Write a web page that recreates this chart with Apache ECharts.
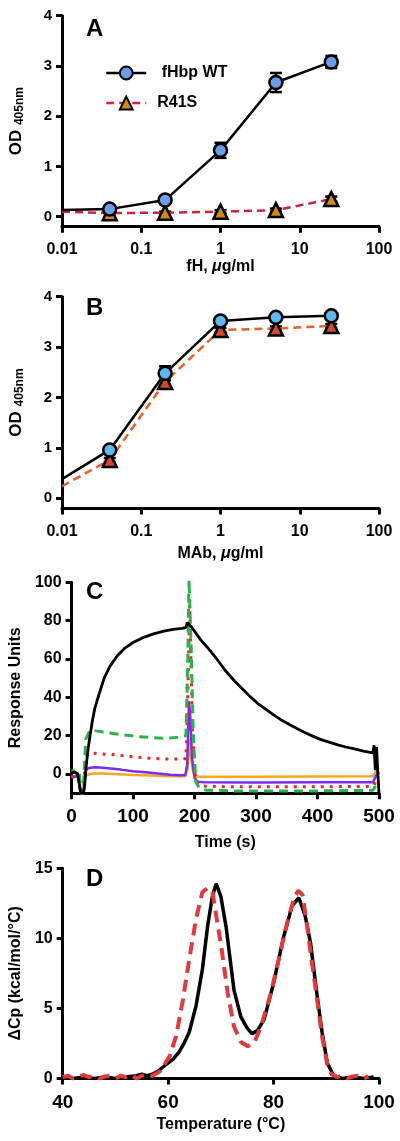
<!DOCTYPE html>
<html>
<head>
<meta charset="utf-8">
<script src="https://cdn.jsdelivr.net/npm/echarts@6/dist/echarts.min.js"></script>
<style>
html,body{margin:0;padding:0;background:#fff;}
#c{width:400px;height:1141px;}
</style>
</head>
<body>
<div id="c"></div>
<script>
// ---------- Panel A : fH binding ----------
const concA = [0.01, 0.04, 0.2, 1, 5, 25];
const wtA = [0.13, 0.15, 0.33, 1.32, 2.67, 3.08];
const wtAErr = [0, 0.04, 0.05, 0.15, 0.19, 0.12];
const r41sA = [0.1, 0.07, 0.08, 0.1, 0.13, 0.35];
const r41sAErr = [0, 0.02, 0.02, 0.03, 0.03, 0.05];
// ---------- Panel B : MAb binding ----------
const concB = [0.01, 0.04, 0.2, 1, 5, 25];
const wtB = [0.38, 0.96, 2.48, 3.52, 3.59, 3.62];
const wtBErr = [0, 0.05, 0.14, 0.05, 0.04, 0.04];
const r41sB = [0.24, 0.76, 2.31, 3.34, 3.37, 3.42];
const r41sBErr = [0, 0.04, 0.1, 0.04, 0.04, 0.04];
const logTickLabels = ['0.01', '0.1', '1', '10', '100'];
const odTicks = [0, 1, 2, 3, 4];
const seriesNames = [' fHbp WT', 'R41S'];

// ---------- Panel C : SPR sensorgrams [time s, RU] ----------
const sprBlack = [[0,0.5],[5,1],[10,0],[13,-1],[15,-10],[19,-10],[21,-7],[24,5],[27,13.5],[30,20],[34,28],[38,34.5],[45,42],[53,50],[62,56],[74,61.6],[86,65.5],[100,68.6],[115,71],[132,73],[150,74.5],[165,75.5],[180,76],[186,76.5],[188,79],[191,80],[194,77],[200,74.5],[210,70],[221,66],[235,60.5],[250,54],[265,48.5],[276,45],[290,40.5],[302,37],[315,34],[328,31],[342,28],[355,25.7],[368,23.5],[381,21.4],[394,19.5],[407,17.8],[420,16.5],[433,15.2],[446,14.1],[460,13.1],[475,12],[490,11],[492,15],[494,2],[496,14],[498,1],[500,-10]];
const sprGreen = [[0,2],[5,1.5],[8,0],[10,2],[13,0],[15,-10],[19,-10],[21,5],[23,18],[27,21],[32,23],[40,22.5],[55,21.8],[70,21],[90,20.2],[110,19.5],[130,19],[150,18.7],[170,19],[186,20],[189,60],[191,102],[193,102],[195,60],[198,20],[202,-4],[208,-7.5],[220,-8.5],[240,-8.5],[260,-8.8],[300,-8.8],[350,-8.8],[400,-8.8],[450,-8.6],[490,-8.5],[495,-6],[500,-5]];
const sprRed = [[0,-1],[5,-1.5],[10,-1],[13,-2],[15,-10],[19,-10],[21,0],[23,9],[28,10.5],[35,10.8],[50,10.5],[70,10],[90,9.3],[110,8.7],[130,8.2],[150,7.9],[170,7.8],[186,8],[189,40],[192,88],[194,60],[197,20],[201,0],[205,-5.5],[215,-6.3],[250,-6.6],[300,-6.6],[400,-6.6],[490,-6.5],[495,-4],[500,-3]];
const sprPurple = [[0,-2],[10,-1],[13,-2],[15,-10],[19,-10],[21,-2],[23,2.5],[30,3.3],[40,3.5],[60,3],[80,2.3],[100,1.5],[120,0.9],[140,0.3],[160,-0.4],[175,-0.6],[185,-0.5],[188,5],[191,38],[193,30],[196,8],[200,-2],[205,-4],[215,-4.3],[300,-4.4],[400,-4.3],[490,-4.3],[495,-1],[500,1]];
const sprOrange = [[0,-1],[10,-1],[13,-2],[15,-10],[19,-10],[21,-3],[24,-0.5],[35,0.3],[50,0.3],[70,0],[100,-0.5],[130,-0.8],[160,-1.1],[185,-1.2],[189,3],[192,18],[194,10],[197,2],[201,-1.3],[210,-1.4],[300,-1.4],[400,-1.3],[490,-1.2],[495,1],[500,3]];
const ruTicks = [0, 20, 40, 60, 80, 100];

// ---------- Panel D : DSC [T degC, dCp] ----------
const dscWT = [[40,0.1],[42,0],[44,0.1],[46,0],[48,0.1],[50,0],[52,0.1],[54,0.2],[55,0.3],[56,0.2],[57,0.3],[58,0.5],[59.6,1],[61,1.4],[62.1,1.9],[63,2.5],[64,3.3],[65.3,5.2],[66.5,7.8],[67.5,10.9],[68.4,13],[69.1,13.9],[70,13],[71,10.8],[71.6,9],[72.5,6.3],[73.8,4.4],[75,3.6],[75.9,3.2],[76.9,3.4],[78.2,4.2],[80,6.8],[81.9,10.1],[83.5,12.3],[84.8,12.9],[86,11.6],[87,9.7],[88.2,6.1],[89.2,3.3],[90.2,1.1],[91.4,0.2],[93,0],[95,0.1],[97,0],[99,0.1]];
const dscR41S = [[40,0.1],[41,0.2],[42,0],[43,0.15],[44,0.25],[45,0.1],[46,0.2],[47,0],[48,0.15],[49,0.2],[50,0],[51,0.2],[52,0.1],[53,0.25],[54,0],[55,0.2],[56,0.1],[57,0.2],[58.4,0.5],[60.3,1.6],[61.5,3.0],[62.8,5.6],[64,8.5],[65.3,11.4],[66.5,13.3],[67.5,13.6],[68.4,13.3],[69.3,11.2],[70,9.6],[71.3,6.1],[72.5,3.7],[73.8,2.6],[75.1,2.3],[76.4,2.6],[77.6,3.7],[79.5,6.1],[81.1,8.7],[82.7,11.3],[84,13],[84.7,13.4],[85.5,13.1],[86.4,10.8],[87.2,8.5],[88.2,5.8],[89.2,3],[90.2,1],[91,0.3],[92,0.1],[93,0.2],[94,0],[95,0.15],[96,0.2],[97,0],[98,0.15]];
const tempTicks = [40, 60, 80, 100];
const dcpTicks = [0, 5, 10, 15];

// ---------------------------------------------------------
const FONT = "'Liberation Sans', Arial, Helvetica, sans-serif";
const chart = echarts.init(document.getElementById('c'), null, {renderer: 'canvas'});

function zip(xs, ys, es) {
  return xs.map((x, i) => es ? [x, ys[i], es[i]] : [x, ys[i]]);
}
function lineData(xs, ys) {
  return xs.map((x, i) => i === 0 ? {value: [x, ys[i]], symbol: 'none'} : [x, ys[i]]);
}
function errorSeries(gi, xs, ys, es) {
  return {
    type: 'custom', xAxisIndex: gi, yAxisIndex: gi, z: 1, silent: true,
    data: zip(xs, ys, es).slice(1),
    renderItem: function (params, api) {
      const x = api.value(0), y = api.value(1), e = api.value(2);
      const top = api.coord([x, y + e]);
      const bot = api.coord([x, y - e]);
      const hw = 6;
      const st = {stroke: '#000', lineWidth: 2.5};
      return {type: 'group', children: [
        {type: 'line', shape: {x1: top[0], y1: top[1], x2: bot[0], y2: bot[1]}, style: st},
        {type: 'line', shape: {x1: top[0]-hw, y1: top[1], x2: top[0]+hw, y2: top[1]}, style: st},
        {type: 'line', shape: {x1: bot[0]-hw, y1: bot[1], x2: bot[0]+hw, y2: bot[1]}, style: st}
      ]};
    }
  };
}

const axisLine = {show: true, onZero: false, lineStyle: {color: '#000', width: 3}};
const axisTick = (vals) => ({show: true, length: 6, lineStyle: {color: '#000', width: 3}, customValues: vals});
const boldTxt = (size) => ({color: '#000', fontSize: size, fontWeight: 'bold', fontFamily: FONT});

const grids = [
  {left: 61, right: 21, top: 15.7, height: 211},
  {left: 61, right: 21, top: 296.7, height: 211.7},
  {left: 61, right: 21, top: 582.3, height: 210.9},
  {left: 61, right: 21, top: 868.3, height: 210.2}
];

function logX(gi, nameRich, gap) {
  return {
    type: 'log', logBase: 10, gridIndex: gi, min: 0.01, max: 100,
    axisLine: axisLine, splitLine: {show: false},
    axisTick: {show: true, length: 6, lineStyle: {color: '#000', width: 3}},
    axisLabel: Object.assign(boldTxt(16), {margin: 15,
      formatter: (v) => logTickLabels[Math.round(Math.log10(v)) + 2]}),
    name: nameRich, nameLocation: 'middle', nameGap: gap,
    nameTextStyle: Object.assign(boldTxt(16), {rich: {
      n: boldTxt(16), i: Object.assign(boldTxt(16), {fontStyle: 'italic'})}})
  };
}
function odY(gi) {
  return {
    type: 'value', gridIndex: gi, min: -0.2, max: 4,
    axisLine: axisLine, splitLine: {show: false},
    axisTick: axisTick(odTicks),
    axisLabel: Object.assign(boldTxt(15), {margin: 10, customValues: odTicks}),
    name: '{a|OD }{b|405nm}', nameLocation: 'middle', nameRotate: 90, nameGap: 36,
    nameTextStyle: {rich: {
      a: boldTxt(17),
      b: Object.assign(boldTxt(12), {padding: [7, 0, 0, 0]})
    }}
  };
}

const option = {
  animation: false,
  backgroundColor: '#fff',
  grid: grids,
  legend: {
    show: true, orient: 'vertical', left: 100, top: 60, itemWidth: 40, itemHeight: 16, itemGap: 14,
    data: seriesNames,
    lineStyle: {width: 2.5},
    textStyle: Object.assign(boldTxt(16), {padding: [0, 0, 0, 6]})
  },
  xAxis: [
    logX(0, '{n|fH, }{i|μ}{n|g/ml}', 30),
    logX(1, '{n|MAb, }{i|μ}{n|g/ml}', 37),
    {
      type: 'value', gridIndex: 2, min: 0, max: 500, interval: 100,
      axisLine: axisLine, splitLine: {show: false},
      axisTick: {show: true, length: 6, lineStyle: {color: '#000', width: 3}},
      axisLabel: Object.assign(boldTxt(19), {margin: 14}),
      name: 'Time (s)', nameLocation: 'middle', nameGap: 41, nameTextStyle: boldTxt(16)
    },
    {
      type: 'value', gridIndex: 3, min: 40, max: 100, interval: 20,
      axisLine: axisLine, splitLine: {show: false},
      axisTick: {show: true, length: 6, lineStyle: {color: '#000', width: 3}, customValues: tempTicks},
      axisLabel: Object.assign(boldTxt(19), {margin: 15, customValues: tempTicks}),
      name: 'Temperature (°C)', nameLocation: 'middle', nameGap: 38, nameTextStyle: boldTxt(16)
    }
  ],
  yAxis: [
    odY(0),
    odY(1),
    {
      type: 'value', gridIndex: 2, min: -10, max: 100,
      axisLine: axisLine, splitLine: {show: false},
      axisTick: axisTick(ruTicks),
      axisLabel: Object.assign(boldTxt(16), {margin: 10, customValues: ruTicks}),
      name: 'Response Units', nameLocation: 'middle', nameRotate: 90, nameGap: 35,
      nameTextStyle: boldTxt(16)
    },
    {
      type: 'value', gridIndex: 3, min: 0, max: 15,
      axisLine: axisLine, splitLine: {show: false},
      axisTick: axisTick(dcpTicks),
      axisLabel: Object.assign(boldTxt(16), {margin: 10, customValues: dcpTicks}),
      name: 'ΔCp (kcal/mol/°C)', nameLocation: 'middle', nameRotate: 90, nameGap: 37,
      nameTextStyle: boldTxt(16)
    }
  ],
  graphic: [
    {type: 'text', left: 86, top: 17, style: {text: 'A', font: "bold 24px " + FONT, fill: '#000'}},
    {type: 'text', left: 86, top: 296, style: {text: 'B', font: "bold 24px " + FONT, fill: '#000'}},
    {type: 'text', left: 86, top: 580, style: {text: 'C', font: "bold 24px " + FONT, fill: '#000'}},
    {type: 'text', left: 86, top: 867, style: {text: 'D', font: "bold 24px " + FONT, fill: '#000'}}
  ],
  series: [
    // Panel A
    errorSeries(0, concA, wtA, wtAErr),
    errorSeries(0, concA, r41sA, r41sAErr),
    {
      name: seriesNames[1], type: 'line', xAxisIndex: 0, yAxisIndex: 0, z: 3,
      data: lineData(concA, r41sA), symbol: 'triangle', symbolSize: 14,
      lineStyle: {color: '#d4213d', width: 2.5, type: [8, 5]},
      itemStyle: {color: '#d08a10', borderColor: '#000', borderWidth: 2.5}
    },
    {
      name: seriesNames[0], type: 'line', xAxisIndex: 0, yAxisIndex: 0, z: 4,
      data: lineData(concA, wtA), symbol: 'circle', symbolSize: 13,
      lineStyle: {color: '#000', width: 2.5},
      itemStyle: {color: '#6b9de8', borderColor: '#000', borderWidth: 2.5}
    },
    // Panel B
    errorSeries(1, concB, wtB, wtBErr),
    errorSeries(1, concB, r41sB, r41sBErr),
    {
      type: 'line', xAxisIndex: 1, yAxisIndex: 1, z: 4,
      data: lineData(concB, wtB), symbol: 'circle', symbolSize: 13,
      lineStyle: {color: '#000', width: 2.5},
      itemStyle: {color: '#5fb8ef', borderColor: '#000', borderWidth: 2.5}
    },
    {
      type: 'line', xAxisIndex: 1, yAxisIndex: 1, z: 3,
      data: lineData(concB, r41sB), symbol: 'triangle', symbolSize: 14,
      lineStyle: {color: '#e8612c', width: 2.5, type: [8, 5]},
      itemStyle: {color: '#cf4a2e', borderColor: '#000', borderWidth: 2.5}
    },
    // Panel C
    {type: 'line', xAxisIndex: 2, yAxisIndex: 2, data: sprOrange, symbol: 'none', z: 2,
      lineStyle: {color: '#f5a623', width: 2.5}},
    {type: 'line', xAxisIndex: 2, yAxisIndex: 2, data: sprPurple, symbol: 'none', z: 2,
      lineStyle: {color: '#7a2cf2', width: 2.5}},
    {type: 'line', xAxisIndex: 2, yAxisIndex: 2, data: sprRed, symbol: 'none', z: 2,
      lineStyle: {color: '#e8262a', width: 3, type: [3, 6]}},
    {type: 'line', xAxisIndex: 2, yAxisIndex: 2, data: sprGreen, symbol: 'none', z: 2,
      lineStyle: {color: '#2eb04a', width: 3, type: [9, 6]}},
    {type: 'line', xAxisIndex: 2, yAxisIndex: 2, data: sprBlack, symbol: 'none', z: 3,
      lineStyle: {color: '#000', width: 2.8}},
    // Panel D
    {type: 'line', xAxisIndex: 3, yAxisIndex: 3, data: dscWT, symbol: 'none', z: 2,
      lineStyle: {color: '#000', width: 3.5}},
    {type: 'line', xAxisIndex: 3, yAxisIndex: 3, data: dscR41S, symbol: 'none', z: 3,
      lineStyle: {color: '#e03a3e', width: 4, type: [12, 7]}}
  ]
};
chart.setOption(option);
</script>
</body>
</html>
